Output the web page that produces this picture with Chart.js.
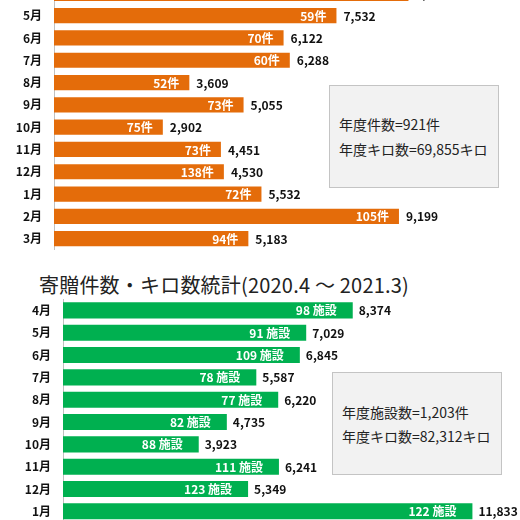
<!DOCTYPE html>
<html lang="ja">
<head>
<meta charset="utf-8">
<script src="https://cdn.jsdelivr.net/npm/chart.js@4.4.1/dist/chart.umd.min.js"></script>
<style>
  html, body { margin: 0; padding: 0; }
  body { width: 520px; height: 520px; overflow: hidden; position: relative; background: #fff;
         font-family: "Noto Sans CJK JP", "Noto Sans", sans-serif; color: #222; }
  .wrap { position: absolute; left: 0; width: 520px; height: 300px; }
  .note { position: absolute; box-sizing: border-box; width: 170px; height: 103px;
          background: #f2f2f2; border: 1px solid #c4c4c4; font-size: 14px; line-height: 25px; padding-left: 9px; }
  .title { position: absolute; left: 39px; top: 274px; font-size: 20px; line-height: 22px; white-space: nowrap;
           letter-spacing: 0.2px; color: #222; }
</style>
</head>
<body>
<div class="wrap" id="wrapKen"><canvas id="kenChart"></canvas></div>
<div class="note" style="left:329px; top:85px; padding-top:26px;">
  <div>年度件数=921件</div>
  <div>年度キロ数=69,855キロ</div>
</div>

<div class="title">寄贈件数・キロ数統計(2020.4 ～ 2021.3)</div>
<div class="wrap" id="wrapShisetsu"><canvas id="shisetsuChart"></canvas></div>
<div class="note" style="left:332px; top:372px; padding-top:27px; line-height:24px;">
  <div>年度施設数=1,203件</div>
  <div>年度キロ数=82,312キロ</div>
</div>

<script>
const MONTHS = ["4月", "5月", "6月", "7月", "8月", "9月", "10月", "11月", "12月", "1月", "2月", "3月"];

// 上段 (件数 / キロ数)
const kenCounts = [50, 59, 70, 60, 52, 73, 75, 73, 138, 72, 105, 94];
const kenKilos = [9452, 7532, 6122, 6288, 3609, 5055, 2902, 4451, 4530, 5532, 9199, 5183];

// 下段 (施設数 / キロ数) - 2月・3月は画面外
const shisetsuMonths = MONTHS.slice(0, 10);
const shisetsuCounts = [98, 91, 109, 78, 77, 82, 88, 111, 123, 122];
const shisetsuKilos = [8374, 7029, 6845, 5587, 6220, 4735, 3923, 6241, 5349, 11833];

const FONT = '"Noto Sans CJK JP", "Noto Sans", sans-serif';

function makeLabelPlugin(innerTexts, outerTexts, innerGap, outerGap) {
    return {
        id: "barLabels",
        afterDatasetsDraw(chart) {
            const ctx = chart.ctx;
            const meta = chart.getDatasetMeta(0);
            ctx.save();
            ctx.font = `bold 12px ${FONT}`;
            ctx.textBaseline = "middle";
            meta.data.forEach((bar, i) => {
                ctx.fillStyle = "#ffffff";
                ctx.textAlign = "right";
                ctx.fillText(innerTexts[i], bar.x - innerGap, bar.y + 0.5);
                ctx.fillStyle = "#111111";
                ctx.textAlign = "left";
                ctx.fillText(outerTexts[i], bar.x + outerGap, bar.y + 0.5);
            });
            ctx.restore();
        }
    };
}

function buildBarChart(canvasId, labels, values, color, axisWidth, xMax, thickness, plugin) {
    return new Chart(document.getElementById(canvasId), {
        type: "bar",
        data: {
            labels,
            datasets: [{ data: values, backgroundColor: color, borderWidth: 0, barPercentage: thickness, categoryPercentage: 1 }]
        },
        options: {
            indexAxis: "y",
            responsive: true,
            maintainAspectRatio: false,
            animation: false,
            layout: { padding: 0 },
            plugins: { legend: { display: false }, tooltip: { enabled: false } },
            scales: {
                x: { display: false, min: 0, max: xMax },
                y: {
                    grid: { display: false, drawTicks: false },
                    border: { display: true, color: "#c0c0c0", width: 1 },
                    ticks: { color: "#111", padding: 12, font: { family: FONT, size: 12, weight: "bold" } },
                    afterFit(scale) { scale.width = axisWidth; }
                }
            }
        },
        plugins: [plugin]
    });
}

// chartArea をピクセル位置に合わせる
function placeChart(chart, wrapId, areaTop, areaHeight) {
    const wrap = document.getElementById(wrapId);
    const a = chart.chartArea;
    const pad = a.top + (chart.height - a.bottom);
    wrap.style.height = (areaHeight + pad) + "px";
    wrap.style.top = (areaTop - a.top) + "px";
    chart.resize();
}

const kenChart = buildBarChart("kenChart", MONTHS, kenKilos, "#e46c0a", 54, 466 / 0.0375, 0.68,
    makeLabelPlugin(kenCounts.map(n => `${n}件`), kenKilos.map(v => v.toLocaleString("en-US")), 10, 7));
placeChart(kenChart, "wrapKen", -17.6, 12 * 22.3);

const shisetsuChart = buildBarChart("shisetsuChart", shisetsuMonths, shisetsuKilos, "#00b050", 63, 457 / 0.0346, 0.72,
    makeLabelPlugin(shisetsuCounts.map(n => `${n} 施設`), shisetsuKilos.map(v => v.toLocaleString("en-US")), 16, 6));
placeChart(shisetsuChart, "wrapShisetsu", 298.8, 10 * 22.33);
</script>
</body>
</html>
